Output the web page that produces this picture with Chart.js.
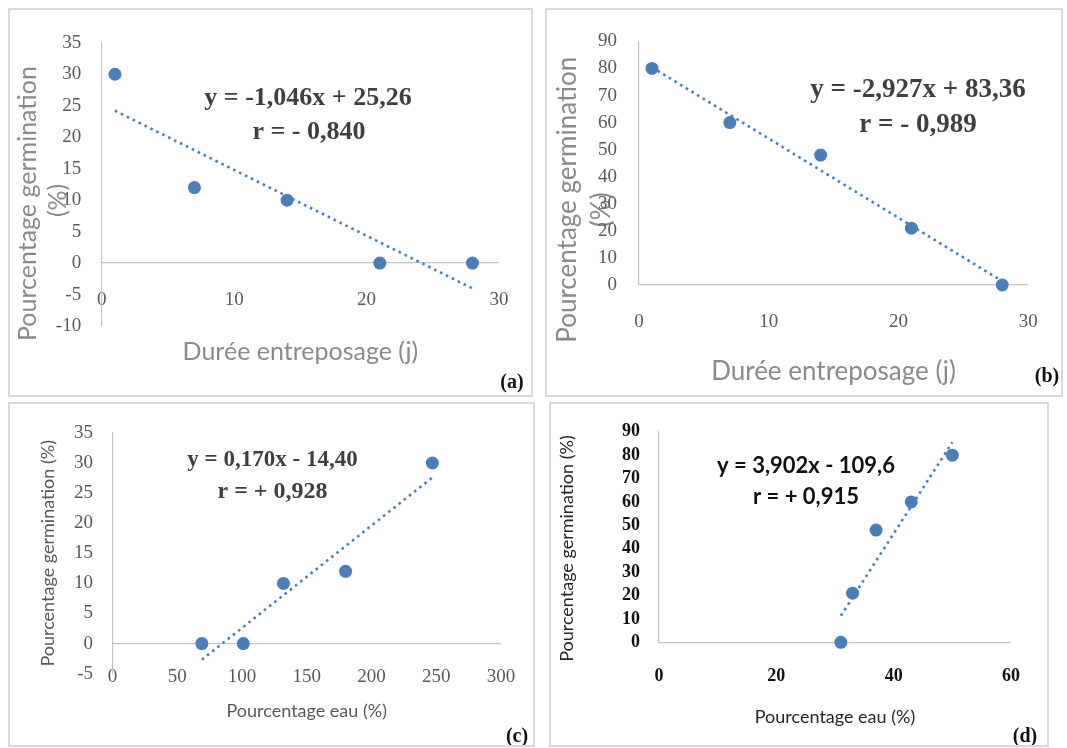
<!DOCTYPE html>
<html>
<head>
<meta charset="utf-8">
<script src="https://cdn.jsdelivr.net/npm/chart.js@4/dist/chart.umd.min.js"></script>
<style>
html,body{margin:0;padding:0;background:#fff;}
body{width:1067px;height:748px;position:relative;overflow:hidden;}
canvas{position:absolute;}
.frame{position:absolute;box-sizing:border-box;border:2px solid #d9d9d9;pointer-events:none;}
</style>
</head>
<body>
<canvas id="pa" width="525" height="389" style="left:8px;top:8px;width:525px;height:389px"></canvas>
<canvas id="pb" width="518" height="389" style="left:545px;top:8px;width:518px;height:389px"></canvas>
<canvas id="pc" width="527" height="345" style="left:8px;top:402px;width:527px;height:345px"></canvas>
<canvas id="pd" width="500" height="345" style="left:549px;top:402px;width:500px;height:345px"></canvas>
<div class="frame" style="left:8px;top:8px;width:525px;height:389px"></div>
<div class="frame" style="left:545px;top:8px;width:518px;height:389px"></div>
<div class="frame" style="left:8px;top:402px;width:527px;height:345px"></div>
<div class="frame" style="left:549px;top:402px;width:500px;height:345px"></div>
<script>
// ---- data ----
const storageDays = [1, 7, 14, 21, 28];
const germinationA = [30, 12, 10, 0, 0];
const germinationB = [80, 60, 48, 21, 0];
const waterContentC = [247, 180, 132, 101, 69];
const waterContentD = [50, 43, 37, 33, 31];
const trendSlope = [-1.046, -2.927, 0.170, 3.902];
const trendIntercept = [25.26, 83.36, -14.40, -109.6];

// ---- tick labels ----
const xTicksDays = [0, 10, 20, 30];
const yTicksA = [-10, -5, 0, 5, 10, 15, 20, 25, 30, 35];
const yTicksB = [0, 10, 20, 30, 40, 50, 60, 70, 80, 90];
const xTicksC = [0, 50, 100, 150, 200, 250, 300];
const yTicksC = [-5, 0, 5, 10, 15, 20, 25, 30, 35];
const xTicksD = [0, 20, 40, 60];
const yTicksD = [0, 10, 20, 30, 40, 50, 60, 70, 80, 90];

// ---- texts ----
const xTitleDays = 'Durée entreposage (j)';
const xTitleWater = 'Pourcentage eau (%)';
const yTitleGerm = 'Pourcentage germination (%)';
const equationA = ['y = -1,046x + 25,26', 'r = - 0,840'];
const equationB = ['y = -2,927x + 83,36', 'r = - 0,989'];
const equationC = ['y = 0,170x - 14,40', 'r = + 0,928'];
const equationD = ['y = 3,902x - 109,6', 'r = + 0,915'];
const panelLetters = ['(a)', '(b)', '(c)', '(d)'];

const BLUE = '#4a7ebb';
const AXIS = '#c4c4c4';

const notesPlugin = {
  id: 'notes',
  afterDraw(chart, args, opts) {
    const ctx = chart.ctx;
    (opts.items || []).forEach(it => {
      ctx.save();
      ctx.font = it.font;
      ctx.fillStyle = it.color;
      ctx.textAlign = 'center';
      ctx.textBaseline = 'middle';
      ctx.fillText(it.text, it.x, it.y);
      ctx.restore();
    });
  }
};

function pad(s, n) { return s + ' '.repeat(n); }

function scatterPanel(id, o) {
  const pts = o.xs.map((x, i) => ({x: x, y: o.ys[i]}));
  const x0 = Math.min(...o.xs), x1 = Math.max(...o.xs);
  const trend = [x0, x1].map(x => ({x: x, y: o.slope * x + o.intercept}));
  const xMin = o.xTicks[0], xMax = o.xTicks[o.xTicks.length - 1];
  const yMin = o.yTicks[0], yMax = o.yTicks[o.yTicks.length - 1];
  new Chart(document.getElementById(id), {
    type: 'scatter',
    data: {
      datasets: [
        {data: trend, showLine: true, borderColor: BLUE, borderWidth: 2.6, borderDash: [2.6, 4],
         pointRadius: 0, clip: false, order: 1, xAxisID: 'x', yAxisID: 'y'},
        {data: pts, showLine: false, pointRadius: 6.5, pointBackgroundColor: BLUE,
         pointBorderColor: BLUE, pointBorderWidth: 0, clip: false, order: 0, xAxisID: 'x', yAxisID: 'y'}
      ]
    },
    plugins: [notesPlugin],
    options: {
      responsive: false, animation: false, devicePixelRatio: 1,
      layout: {padding: {left: 0, top: o.padTop, right: o.padRight, bottom: 0}},
      plugins: {legend: {display: false}, tooltip: {enabled: false}, notes: {items: o.notes}},
      scales: {
        x: {
          type: 'linear', position: 'bottom', min: xMin, max: xMax,
          afterBuildTicks: s => { s.ticks = o.xTicks.map(v => ({value: v})); },
          afterFit: s => { s.height = o.xHeight; },
          grid: {display: false, drawTicks: false},
          border: {display: false},
          ticks: {display: false},
          title: {display: true, text: o.xTitle, font: o.xTitleFont, color: o.titleColor,
                  padding: {top: 0, bottom: o.xTitlePad}}
        },
        xLabels: {
          type: 'linear', axis: 'x', position: {y: yMin}, min: xMin, max: xMax,
          afterBuildTicks: s => { s.ticks = o.xTicks.map(v => ({value: v})); },
          grid: {display: false, drawTicks: false},
          border: {display: false},
          ticks: {padding: o.xTickPad, font: o.tickFont, color: o.tickColor, maxRotation: 0,
                  autoSkip: false, callback: v => String(v)},
          title: {display: false}
        },
        y: {
          type: 'linear', position: 'left', min: yMin, max: yMax,
          afterBuildTicks: s => { s.ticks = o.yTicks.map(v => ({value: v})); },
          afterFit: s => { s.width = o.yWidth; },
          grid: {display: true, drawTicks: false, lineWidth: 1.2,
                 color: c => (c.tick && c.tick.value === 0) ? AXIS : 'rgba(0,0,0,0)'},
          border: {display: true, color: AXIS, width: 1.2},
          ticks: {padding: o.yTickPad, font: o.tickFont, color: o.tickColor, autoSkip: false,
                  callback: v => String(v)},
          title: {display: true, text: o.yTitle, font: o.yTitleFont, color: o.titleColor,
                  padding: {top: o.yTitlePad, bottom: 0}}
        }
      }
    }
  });
}

const serifTicks = {family: 'Liberation Serif', size: 19, weight: 'normal', lineHeight: 1.2};
const eqFont = s => 'bold ' + s + 'px "Liberation Serif"';
const letterFont = 'bold 20px "Liberation Serif"';

// (a)
scatterPanel('pa', {
  xs: storageDays, ys: germinationA, slope: trendSlope[0], intercept: trendIntercept[0],
  xTicks: xTicksDays, yTicks: yTicksA,
  padTop: 34.8, padRight: 34, xHeight: 71, yWidth: 93.7,
  xTickPad: -37.4, yTickPad: 20.5,
  tickFont: serifTicks, tickColor: '#595959',
  xTitle: xTitleDays, yTitle: [pad('Pourcentage germination', 6), pad('(%)', 5)],
  xTitleFont: {family: 'Lato', size: 25, lineHeight: 1.2},
  yTitleFont: {family: 'Lato', size: 25, lineHeight: 1.2},
  titleColor: '#8a8a8a', xTitlePad: 30, yTitlePad: 5,
  notes: [
    {text: equationA[0], x: 300, y: 90, font: eqFont(26), color: '#3f3f3f'},
    {text: equationA[1], x: 301, y: 124, font: eqFont(26), color: '#3f3f3f'},
    {text: panelLetters[0], x: 504, y: 375, font: letterFont, color: '#111'}
  ]
});

// (b)
scatterPanel('pb', {
  xs: storageDays, ys: germinationB, slope: trendSlope[1], intercept: trendIntercept[1],
  xTicks: xTicksDays, yTicks: yTicksB,
  padTop: 32, padRight: 29, xHeight: 112, yWidth: 94,
  xTickPad: 25.3, yTickPad: 22,
  tickFont: serifTicks, tickColor: '#595959',
  xTitle: xTitleDays, yTitle: [pad('Pourcentage germination', 11), pad('(%)', 14)],
  xTitleFont: {family: 'Lato', size: 26, lineHeight: 1.2},
  yTitleFont: {family: 'Lato', size: 26, lineHeight: 1.33},
  titleColor: '#8a8a8a', xTitlePad: 9.7, yTitlePad: 5.2,
  notes: [
    {text: equationB[0], x: 373, y: 82, font: eqFont(27), color: '#3f3f3f'},
    {text: equationB[1], x: 373, y: 117, font: eqFont(27), color: '#3f3f3f'},
    {text: panelLetters[1], x: 502, y: 369, font: letterFont, color: '#111'}
  ]
});

// (c)
scatterPanel('pc', {
  xs: waterContentC, ys: germinationA, slope: trendSlope[2], intercept: trendIntercept[2],
  xTicks: xTicksC, yTicks: yTicksC,
  padTop: 26, padRight: 34, xHeight: 73.3, yWidth: 104.5,
  xTickPad: -8.4, yTickPad: 19.5,
  tickFont: serifTicks, tickColor: '#595959',
  xTitle: xTitleWater, yTitle: yTitleGerm,
  xTitleFont: {family: 'Lato', size: 18, lineHeight: 1.2},
  yTitleFont: {family: 'Lato', size: 18, lineHeight: 1.2},
  titleColor: '#595959', xTitlePad: 25.2, yTitlePad: 29.2,
  notes: [
    {text: equationC[0], x: 264.5, y: 58, font: eqFont(23), color: '#3f3f3f'},
    {text: equationC[1], x: 264.5, y: 90, font: eqFont(24), color: '#3f3f3f'},
    {text: panelLetters[2], x: 509, y: 335, font: letterFont, color: '#111'}
  ]
});

// (d)
scatterPanel('pd', {
  xs: waterContentD, ys: germinationB, slope: trendSlope[3], intercept: trendIntercept[3],
  xTicks: xTicksD, yTicks: yTicksD,
  padTop: 29.7, padRight: 38, xHeight: 104.7, yWidth: 110,
  xTickPad: 22.9, yTickPad: 19,
  tickFont: {family: 'Liberation Serif', size: 18, weight: 'bold', lineHeight: 1.2}, tickColor: '#111',
  xTitle: xTitleWater, yTitle: pad(yTitleGerm, 5),
  xTitleFont: {family: 'Lato', size: 18, lineHeight: 1.2},
  yTitleFont: {family: 'Lato', size: 18, lineHeight: 1.2},
  titleColor: '#262626', xTitlePad: 19.5, yTitlePad: 7.2,
  notes: [
    {text: equationD[0], x: 257, y: 64, font: 'bold 22px Lato', color: '#111'},
    {text: equationD[1], x: 257, y: 95, font: 'bold 22px Lato', color: '#111'},
    {text: panelLetters[3], x: 476, y: 335, font: letterFont, color: '#111'}
  ]
});
</script>
</body>
</html>
